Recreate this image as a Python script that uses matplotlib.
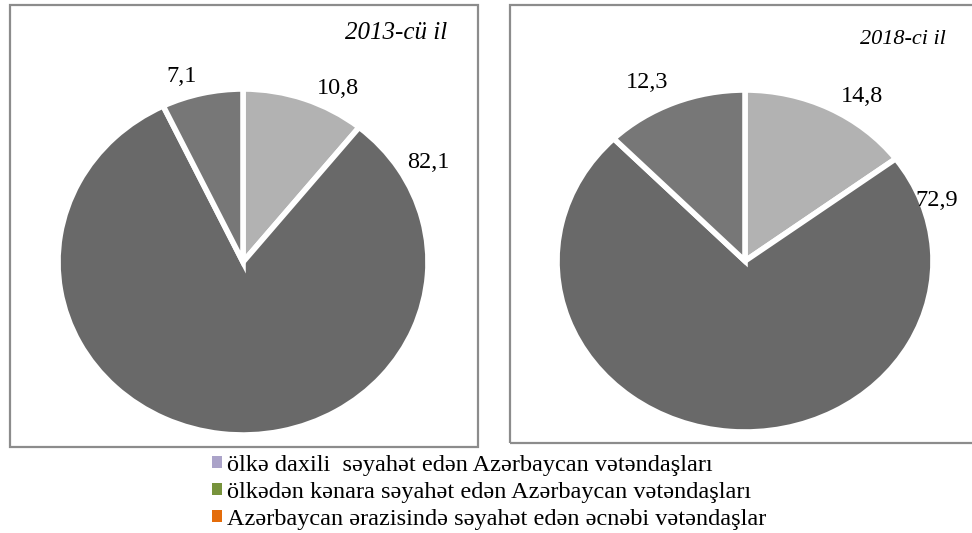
import matplotlib
matplotlib.use('Agg')
from matplotlib import pyplot as plt
from matplotlib.patches import Rectangle, Patch

plt.rcParams['font.family'] = ['Liberation Serif', 'DejaVu Serif']

# data
values_2013 = [10.8, 82.1, 7.1]
values_2018 = [14.8, 72.9, 12.3]
labels_2013 = ['10,8', '82,1', '7,1']
labels_2018 = ['14,8', '72,9', '12,3']
slice_colors = ['#b2b2b2', '#696969', '#777777']
legend_labels = ['ölkə daxili  səyahət edən Azərbaycan vətəndaşları',
                 'ölkədən kənara səyahət edən Azərbaycan vətəndaşları',
                 'Azərbaycan ərazisində səyahət edən əcnəbi vətəndaşlar']
legend_colors = ['#aba3c9', '#77933c', '#e46c0a']

W, H = 972, 533
fig = plt.figure(figsize=(W / 100, H / 100), dpi=100)


def px(x, y):
    # pixel (from top-left) -> figure fraction
    return x / W, 1 - y / H


def box(x0, y0, x1, y1):
    fig.patches.append(Rectangle(px(x0, y1), (x1 - x0) / W, (y1 - y0) / H,
                                 transform=fig.transFigure, fill=False,
                                 edgecolor='#8c8c8c', lw=1.6))


def draw_pie(x0, y0, x1, y1, vals, labs, lab_pos, title, title_pos, title_size):
    l, b = px(x0, y1)
    ax = fig.add_axes([l, b, (x1 - x0) / W, (y1 - y0) / H])
    ax.pie(vals, colors=slice_colors, startangle=90, counterclock=False,
           wedgeprops=dict(edgecolor='white', linewidth=4))
    ax.set_aspect('auto')
    ax.set_xlim(-1.0, 1.0)
    ax.set_ylim(-1.0, 1.0)
    ax.axis('off')
    for t, (x, y) in zip(labs, lab_pos):
        fig.text(*px(x, y), t, ha='center', va='center', fontsize=17.5)
    fig.text(*px(*title_pos), title, ha='center', va='center',
             fontsize=title_size, style='italic')


box(10, 5, 478, 447)
box(510, 5, 985, 443)  # right edge is cut off in the original

draw_pie(58, 89, 428, 435, values_2013, labels_2013,
         [(338, 88), (428, 163), (182, 77)], '2013-cü il', (396, 33), 18)
draw_pie(557, 90, 933, 432, values_2018, labels_2018,
         [(862, 97), (937, 201), (647, 83)], '2018-ci il', (903, 40), 16)

handles = [Patch(facecolor=c, edgecolor='none') for c in legend_colors]
fig.legend(handles, legend_labels, loc='upper left',
           bbox_to_anchor=px(212, 455), frameon=False, fontsize=17.5,
           handlelength=0.4, handleheight=0.4, handletextpad=0.2,
           labelspacing=0.24, borderpad=0, borderaxespad=0)

fig.savefig('out.png', dpi=100, facecolor='white')
